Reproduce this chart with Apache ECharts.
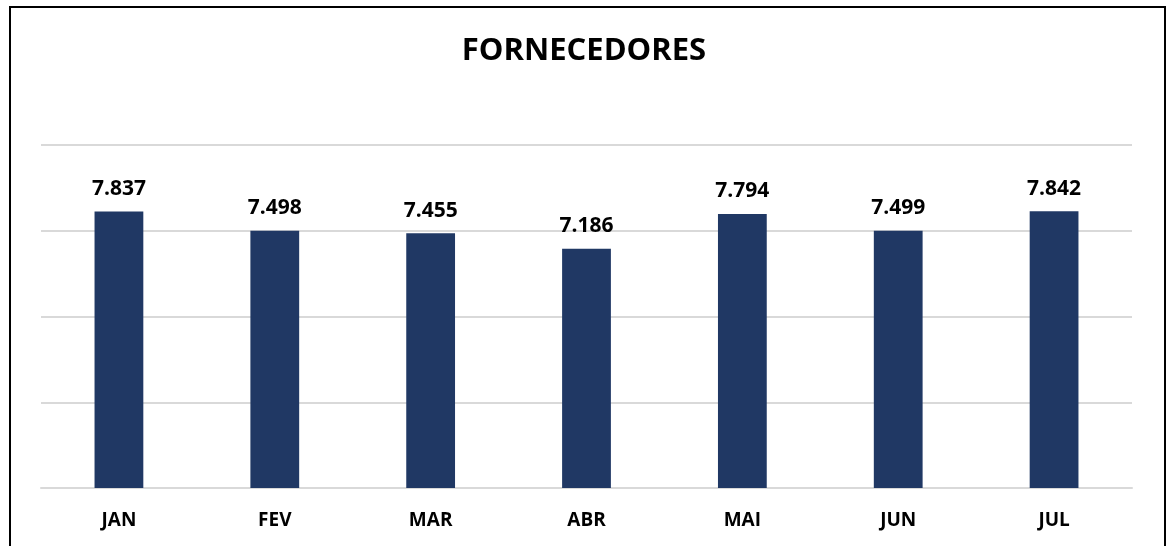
<!DOCTYPE html>
<html>
<head>
<meta charset="utf-8">
<script src="https://cdn.jsdelivr.net/npm/echarts@6/dist/echarts.min.js"></script>
<style>
  html, body { margin: 0; padding: 0; background: #fff; }
  #chart { position: absolute; left: 0; top: 0; width: 1171px; height: 546px; }
  #frame { position: absolute; left: 9px; top: 6px; width: 1153px; height: 600px;
           border: 2px solid #000; pointer-events: none; }
</style>
</head>
<body>
<div id="chart"></div>
<div id="frame"></div>
<script>
// dados do gráfico
const meses = ['JAN', 'FEV', 'MAR', 'ABR', 'MAI', 'JUN', 'JUL'];
const fornecedores = [7837, 7498, 7455, 7186, 7794, 7499, 7842];

// formato pt-BR (ponto como separador de milhar)
function fmt(v) {
  return String(v).replace(/\B(?=(\d{3})+(?!\d))/g, '.');
}

const chart = echarts.init(document.getElementById('chart'));
const fonte = '"Open Sans", "Noto Sans", sans-serif';

chart.setOption({
  animation: false,
  title: {
    text: 'FORNECEDORES',
    left: 579,
    textAlign: 'center',
    top: 31,
    textStyle: { fontFamily: fonte, fontWeight: 'bold', fontSize: 31, color: '#000' }
  },
  grid: { left: 41, right: 39, top: 145, bottom: 58 },
  xAxis: {
    type: 'category',
    data: meses,
    axisLine: { show: true, lineStyle: { color: '#d9d9d9', width: 2 } },
    axisTick: { show: false },
    axisLabel: { margin: 23, fontFamily: fonte, fontWeight: 'bold', fontSize: 19, color: '#000' }
  },
  yAxis: {
    type: 'value',
    min: 3000,
    max: 9000,
    interval: 1500,
    axisLabel: { show: false },
    axisLine: { show: false },
    axisTick: { show: false },
    splitLine: { lineStyle: { color: '#d9d9d9', width: 2 } }
  },
  series: [{
    type: 'bar',
    data: fornecedores,
    barWidth: '31.3%',
    itemStyle: { color: '#203864' },
    label: {
      show: true,
      position: 'top',
      distance: 12,
      formatter: p => fmt(p.value),
      fontFamily: fonte,
      fontWeight: 'bold',
      fontSize: 21,
      color: '#000'
    }
  }]
});

window.addEventListener('resize', () => chart.resize());
</script>
</body>
</html>
